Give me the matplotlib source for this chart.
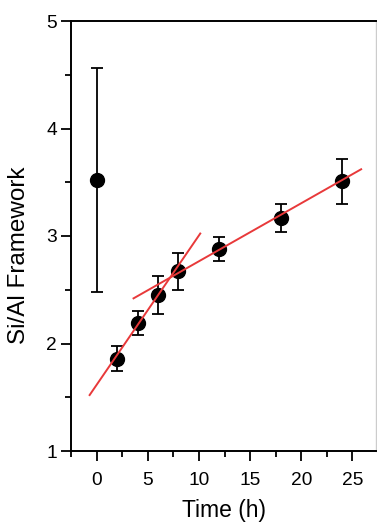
import numpy as np
import matplotlib
matplotlib.use('Agg')
import matplotlib.pyplot as plt
from matplotlib.ticker import MultipleLocator

plt.rcParams['font.family'] = ['Liberation Sans', 'DejaVu Sans']

# Si/Al ratio of the framework vs. treatment time
time_h = [0, 2, 4, 6, 8, 12, 18, 24]
si_al = [3.52, 1.86, 2.19, 2.45, 2.67, 2.88, 3.17, 3.51]
si_al_err = [1.04, 0.12, 0.11, 0.18, 0.17, 0.11, 0.13, 0.21]

# two linear regimes (slope, intercept, x range)
fit1 = (0.139, 1.615, [-0.68, 10.13])
fit2 = (0.054, 2.225, [3.61, 25.85])

fig = plt.figure(figsize=(3.77, 5.25), dpi=100)
ax = fig.add_axes([71/377, 1 - 451/525, 305.5/377, 430/525])

for slope, icpt, xr in (fit1, fit2):
    xr = np.array(xr)
    ax.plot(xr, icpt + slope*xr, color='#e8393a', lw=1.4, zorder=3)

ax.errorbar(time_h, si_al, yerr=si_al_err, fmt='o', color='black',
            ms=10, elinewidth=1.3, capsize=4, capthick=1.3, zorder=2)

ax.set_xlim(-2.5, 27.35)
ax.set_ylim(1, 5)
ax.xaxis.set_major_locator(MultipleLocator(5))
ax.xaxis.set_minor_locator(MultipleLocator(2.5))
ax.yaxis.set_major_locator(MultipleLocator(1))
ax.yaxis.set_minor_locator(MultipleLocator(0.5))
ax.tick_params(which='both', direction='out', width=1.3, labelsize=13.8,
               top=False, right=False)
ax.tick_params(which='major', length=7)
ax.tick_params(which='minor', length=4.3)
ax.tick_params(axis='x', which='major', pad=8)
ax.tick_params(axis='y', which='major', pad=3)

for s in ['left', 'bottom', 'top']:
    ax.spines[s].set_linewidth(1.4)
ax.spines['right'].set_color('#cccccc')
ax.spines['right'].set_linewidth(1.0)

ax.set_xlabel('Time (h)', fontsize=16.5)
ax.set_ylabel('Si/Al Framework', fontsize=17.5)
ax.xaxis.set_label_coords(0.5, -0.112)
ax.yaxis.set_label_coords(-0.135, 0.456)

fig.savefig('out.png', dpi=100)
